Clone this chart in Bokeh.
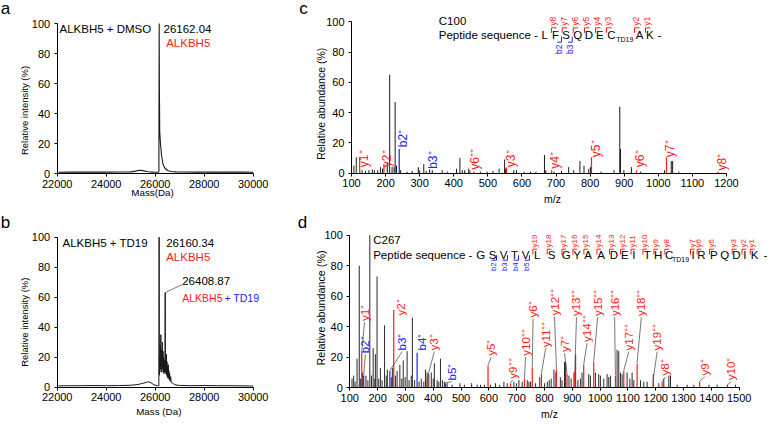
import math
from bokeh.plotting import figure
from bokeh.models import Range1d, Label, FixedTicker
from bokeh.layouts import row, column
from bokeh.embed import file_html
from bokeh.resources import INLINE

SX = 1.0
SY = 1.0
FONT = "Liberation Sans"
RED = "#ff1a1a"
BLUE = "#2020ff"
INK = "#1a1a1a"
LEAD = "#555555"
UP = math.pi / 2

# ---------------- data ----------------
# panel a : deconvoluted spectrum ALKBH5 + DMSO
mass_a = [22050, 22500, 23000, 23500, 24000, 24500, 25000, 25200, 25350, 25500, 25700, 25900,
          26100, 26150, 26162, 26172, 26185, 26215, 26260, 26320, 26400, 26500, 26650, 26850,
          27200, 27700, 28200, 28700, 29200, 29600, 30000]
int_a = [0.8, 1.0, 0.9, 1.0, 0.9, 1.0, 1.1, 1.6, 2.2, 1.9, 1.2, 0.9,
         0.8, 1.0, 100, 55, 28, 20, 12, 6, 3.5, 2.0, 1.3, 1.1,
         1.0, 0.9, 1.0, 0.9, 0.9, 1.0, 0.8]

# panel b : ALKBH5 + TD19
mass_b = [22050, 22500, 23000, 23500, 24000, 24500, 25000, 25300, 25500, 25650,
          25730, 25830, 25950, 26100, 26150, 26160, 26168, 26180, 26192, 26205,
          26217, 26230, 26242, 26255, 26268, 26281, 26294, 26307, 26320, 26333,
          26346, 26359, 26372, 26385, 26398, 26408, 26418, 26430, 26442, 26455,
          26468, 26481, 26494, 26507, 26520, 26533, 26546, 26560, 26575, 26590,
          26610, 26630, 26660, 26700, 26760, 26850, 27000, 27500, 28000, 28500,
          29000, 29500, 30000]
int_b = [0.9, 1.0, 1.0, 1.1, 1.0, 1.1, 1.3, 1.8, 2.6, 3.3,
         3.6, 2.9, 1.6, 1.0, 1.0, 100, 8, 20, 10, 28,
         12, 35, 14, 25, 10, 20, 30, 12, 24, 10,
         20, 9, 18, 10, 16, 63, 10, 18, 9, 22,
         8, 17, 7, 14, 6, 15, 6, 11, 5, 9,
         4, 7, 3, 3, 2, 1.5, 1.2, 1.0, 1.1, 1.0,
         1.0, 0.9, 0.8]

# panel c : MS/MS of C100 peptide (unassigned peaks)
mz_c = [107, 114, 131, 141, 151, 161, 167, 177, 185, 191,
        205, 212, 219, 225, 228, 232, 244, 263, 278, 296,
        300, 312, 319, 337, 366, 381, 408, 418, 425, 432,
        444, 459, 478, 498, 515, 533, 549, 552, 576, 584,
        606, 625, 641, 666, 670, 694, 716, 737, 752, 770,
        782, 796, 801, 832, 870, 887, 889, 899, 921, 948,
        1018, 1038, 1042, 1060]
ab_c = [5, 10.5, 2, 1.5, 2, 2.5, 2, 2, 4, 3,
        7, 65, 4, 4, 47, 5, 2, 1, 1.5, 4,
        2, 6, 1.5, 2, 2, 1, 3, 10, 2, 2,
        3, 1, 1, 1, 1.5, 3, 9, 3, 2, 2,
        1, 1, 1, 12, 2, 1, 1.5, 4, 2, 8,
        5, 3, 4, 1, 2, 44, 16, 2, 4, 1,
        2, 8, 8, 1]
# assigned fragment ions of panel c
ion_c_name = ["y1⁺", "y2⁺", "b2⁺", "b3⁺", "y6⁺⁺", "y3⁺", "y4⁺", "y5⁺", "y6⁺", "y7⁺", "y8⁺"]
ion_c_type = ["y", "y", "b", "b", "y", "y", "y", "y", "y", "y", "y"]
ion_c_mz = [124, 195, 240, 329, 447, 555, 687, 804, 936, 1024, 1175]
ion_c_h = [10.5, 6, 16, 2.5, 2, 4, 2, 10.5, 2, 10.5, 1]
ion_c_lx = [136, 205, 252, 340, 462, 567, 697, 816, 946, 1034, 1186]
ion_c_ly = [4, 4, 17.2, 2.9, 2.2, 4, 2.9, 10.6, 4, 10.6, 1.8]

# panel d : MS/MS of C267 peptide (unassigned peaks)
mz_d = [108, 114, 119, 126, 134, 138, 146, 158, 165, 172,
        178, 184, 190, 192, 198, 204, 210, 216, 225, 231,
        235, 249, 253, 264, 270, 280, 287, 292, 299, 306,
        313, 321, 325, 333, 349, 357, 366, 372, 378, 384,
        393, 400, 404, 414, 420, 426, 433, 440, 450, 468,
        496, 512, 538, 558, 570, 584, 606, 624, 639, 654,
        666, 690, 699, 708, 720, 738, 744, 750, 768, 783,
        800, 810, 817, 824, 834, 841, 857, 863, 872, 876,
        888, 896, 906, 912, 920, 929, 935, 959, 965, 983,
        995, 1001, 1013, 1025, 1031, 1037, 1061, 1067, 1073, 1079,
        1097, 1107, 1115, 1121, 1145, 1157, 1169, 1191, 1211, 1229,
        1247, 1253, 1277, 1313, 1337, 1391, 1421, 1458, 1487]
ab_d = [6, 8, 4, 19, 80, 6, 10, 8, 5, 100,
        8, 26, 6, 22, 73, 6, 13, 5, 41, 8,
        12, 7, 13, 8, 11, 15, 6, 18, 7, 24,
        5, 8, 46, 5, 4, 6, 4, 12, 10, 9,
        10, 6, 16, 5, 4, 19, 5, 4, 3, 2,
        3, 2, 3, 2, 2, 2, 2, 3, 2, 4,
        3, 4, 3, 5, 4, 5, 4, 4, 3, 7,
        3, 4, 5, 6, 12, 10, 7, 5, 17, 17,
        8, 6, 10, 22, 5, 6, 10, 9, 8, 10,
        9, 8, 6, 9, 7, 8, 25, 24, 10, 9,
        10, 6, 10, 5, 5, 4, 4, 9, 3, 6,
        8, 8, 2, 2, 2, 2, 2, 2, 2]
# assigned fragment ions of panel d
ion_d_name = ["y1⁺", "b2⁺", "y2⁺", "b3⁺", "b4⁺", "y3⁺", "b5⁺", "y5⁺", "y9⁺⁺", "y10⁺⁺",
              "y6⁺", "y11⁺⁺", "y12⁺⁺", "y7⁺", "y13⁺⁺", "y14⁺⁺", "y15⁺⁺", "y16⁺⁺", "y17⁺⁺",
              "y18⁺⁺", "y19⁺⁺", "y8⁺", "y9⁺", "y10⁺"]
ion_d_type = ["y", "b", "y", "b", "b", "y", "b", "y", "y", "y",
              "y", "y", "y", "y", "y", "y", "y", "y", "y",
              "y", "y", "y", "y", "y"]
ion_d_mz = [143, 150, 258, 244, 342, 378, 444, 597, 678, 728,
            756, 789, 843, 881, 909, 941, 977, 1055, 1085,
            1133, 1191, 1223, 1358, 1457]
ion_d_h = [23, 8, 51, 11, 23, 6, 3, 14.6, 3, 6,
           13.5, 9, 12, 9, 11, 15, 17, 8, 11,
           16, 5, 4, 4, 1.5]
ion_d_lx = [153, 156, 285, 288, 360, 404, 466, 609, 686, 732,
            759, 804, 836, 872, 915, 953, 991, 1052, 1103,
            1148, 1205, 1235, 1376, 1472]
ion_d_ly = [43.7, 22.7, 47.4, 24.5, 24.5, 24.5, 4.8, 21, 6, 21,
            46, 26.6, 47.4, 23.4, 47, 30, 47, 47, 24.5,
            47, 24.5, 8, 8, 5]
ion_d_leader = [True, True, False, True, False, True, True, True, True, True,
                True, True, True, True, True, True, True, True, True,
                True, True, True, True, True]

# peptide sequences and observed fragment series
seq_c = ["L", "F", "S", "Q", "D", "E", "C", "A", "K", "-"]
yfrag_c = ["y8", "y7", "y6", "y5", "y4", "y3", "y2", "y1"]
bfrag_c = ["b2", "b3"]
seq_d = ["G", "S", "V", "T", "V", "L", "S", "G", "Y", "A", "A", "D", "E", "I", "T", "H", "C",
         "I", "R", "P", "Q", "D", "I", "K", "-"]
yfrag_d = ["y19", "y18", "y17", "y16", "y15", "y14", "y13", "y12", "y11", "y10", "y9", "y8",
           "y7", "y6", "y5", "y3", "y2", "y1"]
bfrag_d = ["b2", "b3", "b4", "b5"]

# ---------------- layout (reference pixel positions) ----------------
seq_c_px = [544.3, 555, 565.7, 577.3, 588.3, 599.3, 611, 639, 649.3, 659]
ybr_c_px = [551, 561.7, 572.7, 584, 595, 606, 634, 645]
bbr_c_px = [561, 571.7]
seq_d_px = [480.3, 492, 503, 514, 525, 536.7, 551, 565.7, 576.7, 587.7, 600.7, 613.3, 624.3,
            633.3, 646.7, 657.7, 668.7, 692.7, 701, 713.3, 724.3, 736, 744.3, 754, 765]
ybr_d_px = [532.4, 546.7, 561.4, 572.4, 583.4, 596.4, 609, 620, 630.5, 642.4, 653.4, 664.4,
            690, 696.7, 709, 731.7, 741.5, 749.7]
bbr_d_px = [496, 507, 518, 529]


class Panel:
    """A figure whose frame fills the whole canvas; axes are pinned at x0 / y=0."""

    def __init__(self, ox, oy, W, H, x0, x1, rx0, rx1, ry0, ry100, xticks):
        self.ox, self.oy, self.W, self.H = ox, oy, W, H
        self.ppx = (rx1 - rx0) * SX / (x1 - x0)
        self.ppy = (ry0 - ry100) * SY / 100.0
        self.xs = x0 - (rx0 * SX - ox) / self.ppx
        self.ys = -(oy + H - ry0 * SY) / self.ppy
        p = figure(width=W, height=H,
                   x_range=Range1d(self.xs, self.xs + W / self.ppx),
                   y_range=Range1d(self.ys, self.ys + H / self.ppy),
                   toolbar_location=None, output_backend="svg",
                   min_border_left=0, min_border_right=0, min_border_top=0,
                   min_border_bottom=0, outline_line_color=None,
                   background_fill_color="white", border_fill_color="white")
        p.xgrid.visible = False
        p.ygrid.visible = False
        p.xaxis.ticker = FixedTicker(ticks=xticks)
        p.xaxis.bounds = (x0, x1)
        p.xaxis.fixed_location = 0
        p.yaxis.ticker = FixedTicker(ticks=[0, 20, 40, 60, 80, 100])
        p.yaxis.bounds = (0, 100)
        p.yaxis.fixed_location = x0
        for ax in (p.xaxis[0], p.yaxis[0]):
            ax.major_tick_in = 0
            ax.major_tick_out = 3
            ax.minor_tick_line_color = None
            ax.axis_line_color = "black"
            ax.major_tick_line_color = "black"
            ax.major_label_text_font = FONT
            ax.major_label_text_font_size = "11px"
            ax.major_label_text_color = "black"
        p.xaxis.major_label_standoff = 3
        p.yaxis.major_label_standoff = 4
        self.p = p

    def dx(self, rx):
        return self.xs + (rx * SX - self.ox) / self.ppx

    def dy(self, ry):
        return self.ys + (self.oy + self.H - ry * SY) / self.ppy

    def text(self, rx, ry, s, color="black", size="11.5px", align="left",
             baseline="middle", angle=0.0):
        self.p.add_layout(Label(x=self.dx(rx), y=self.dy(ry), text=s, text_color=color,
                                text_font=FONT, text_font_size=size, text_align=align,
                                text_baseline=baseline, angle=angle))

    def rline(self, rxs, rys, color, width=1.0):
        self.p.line([self.dx(v) for v in rxs], [self.dy(v) for v in rys],
                    line_color=color, line_width=width)


def ion_labels(P, names, types, mzs, hs, lxs, lys, leaders, size):
    for nm, tp, mz, h, lx, ly, ld in zip(names, types, mzs, hs, lxs, lys, leaders):
        col = RED if tp == "y" else BLUE
        if ld:
            P.p.line([lx, mz], [ly - 0.8, h + 0.3], line_color=LEAD, line_width=0.8)
        P.p.add_layout(Label(x=lx, y=ly, text=nm, text_color=col, text_font=FONT,
                             text_font_size=size, text_align="left", text_baseline="middle",
                             angle=UP))


# ---------------- panel a ----------------
A = Panel(0, 0, 294, 210, 22000, 30000, 56.7, 252.7, 173, 23,
          [22000, 24000, 26000, 28000, 30000])
A.p.line(mass_a, int_a, line_color=INK, line_width=1.1)
A.text(5, 8, "a", size="17px", align="center")
A.text(24.3, 110, "Relative intensity (%)", size="9.5px", align="center", angle=UP)
A.text(152, 192, "Mass(Da)", size="9.8px", align="center")
A.text(59, 28, "ALKBH5 + DMSO")
A.text(163, 28, "26162.04")
A.text(165.7, 42, "ALKBH5", color=RED)

# ---------------- panel b ----------------
B = Panel(0, 210, 294, 214, 22000, 30000, 56.7, 252.7, 386.7, 236.7,
          [22000, 24000, 26000, 28000, 30000])
B.p.line(mass_b, int_b, line_color=INK, line_width=1.0)
B.text(5, 222, "b", size="17px", align="center")
B.text(24.3, 321.7, "Relative intensity (%)", size="9.5px", align="center", angle=UP)
B.text(158.3, 411, "Mass (Da)", size="9.8px", align="center")
B.text(62, 242.3, "ALKBH5 + TD19")
B.text(165.7, 242.3, "26160.34")
B.text(165.7, 256, "ALKBH5", color=RED)
B.text(181.7, 280, "26408.87")
B.p.line([mass_b[35], B.dx(181.7)], [int_b[35], B.dy(284)], line_color=LEAD, line_width=0.8)
B.text(181.7, 297.3, "ALKBH5", color=RED, size="10.5px")
B.text(224, 297.3, "+ TD19", color=BLUE, size="10.5px")

# ---------------- panel c ----------------
C = Panel(294, 0, 477, 210, 100, 1200, 351, 726, 172.7, 21.3,
          list(range(100, 1201, 100)))
C.p.segment(x0=mz_c, y0=[0] * len(mz_c), x1=mz_c, y1=ab_c, line_color=INK, line_width=1)
C.p.segment(x0=ion_c_mz, y0=[0] * len(ion_c_mz), x1=ion_c_mz, y1=ion_c_h,
            line_color=[RED if t == "y" else BLUE for t in ion_c_type], line_width=1.2)
ion_labels(C, ion_c_name, ion_c_type, ion_c_mz, ion_c_h, ion_c_lx, ion_c_ly,
           [False] * len(ion_c_name), "12px")
C.text(303, 8, "c", size="17px", align="center")
C.text(320, 103.3, "Relative abundance (%)", size="10.5px", align="center", angle=UP)
C.text(552, 198, "m/z", size="10.5px", align="center")
C.text(438.3, 20, "C100")
C.text(438.3, 34.5, "Peptide sequence -")
for ch, xp in zip(seq_c, seq_c_px):
    C.text(xp, 34.5, ch, align="center")
C.text(624.3, 38.5, "TD19", size="7px", align="center")
for nm, rv in zip(yfrag_c, ybr_c_px):
    C.rline([rv, rv, rv + 5], [32.3, 27.3, 27.3], RED)
    C.text(rv + 1.8, 25.3, nm, color=RED, size="8.5px", align="left", angle=UP)
for nm, rv in zip(bfrag_c, bbr_c_px):
    C.rline([rv - 4.3, rv, rv], [41.7, 41.7, 36], BLUE)
    C.text(rv - 2.2, 44, nm, color=BLUE, size="8.5px", align="right", angle=UP)

# ---------------- panel d ----------------
D = Panel(294, 210, 477, 214, 100, 1500, 349.3, 738.7, 387.3, 234.7,
          list(range(100, 1501, 100)))
D.p.segment(x0=mz_d, y0=[0] * len(mz_d), x1=mz_d, y1=ab_d, line_color="#2a2a2a", line_width=1)
D.p.segment(x0=ion_d_mz, y0=[0] * len(ion_d_mz), x1=ion_d_mz, y1=ion_d_h,
            line_color=[RED if t == "y" else BLUE for t in ion_d_type], line_width=1.2)
ion_labels(D, ion_d_name, ion_d_type, ion_d_mz, ion_d_h, ion_d_lx, ion_d_ly,
           ion_d_leader, "11.5px")
D.text(302, 222, "d", size="17px", align="center")
D.text(320, 307.5, "Relative abundance (%)", size="10.8px", align="center", angle=UP)
D.text(549, 413, "m/z", size="10.5px", align="center")
D.text(372.7, 239.3, "C267")
D.text(372.7, 254.5, "Peptide sequence -")
for ch, xp in zip(seq_d, seq_d_px):
    D.text(xp, 254.5, ch, align="center")
D.text(680, 258.5, "TD19", size="7px", align="center")
for nm, rv in zip(yfrag_d, ybr_d_px):
    D.rline([rv, rv, rv + 4.3], [254, 248.7, 248.7], RED)
    D.text(rv + 1.7, 247, nm, color=RED, size="8px", align="left", angle=UP)
for nm, rv in zip(bfrag_d, bbr_d_px):
    D.rline([rv - 5, rv, rv], [259.7, 259.7, 254.7], BLUE)
    D.text(rv - 2.7, 261.7, nm, color=BLUE, size="8px", align="right", angle=UP)

layout = column(row(A.p, C.p, spacing=0), row(B.p, D.p, spacing=0), spacing=0)
open("out.html", "w").write(file_html(layout, INLINE))
